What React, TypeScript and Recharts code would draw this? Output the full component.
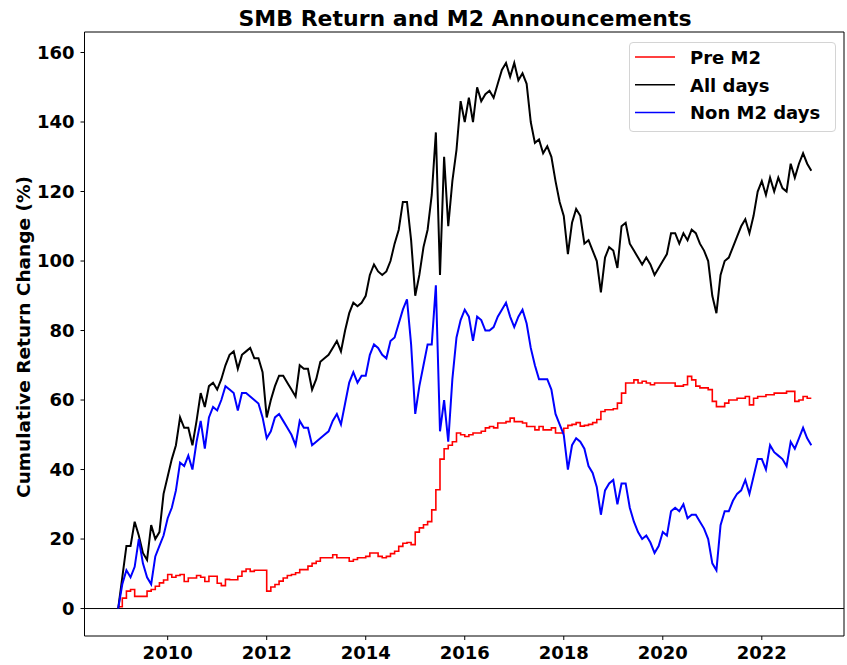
import { LineChart, Line, XAxis, YAxis, ReferenceLine, ReferenceArea, Legend, Label } from "recharts";

const FONT = '"DejaVu Sans", sans-serif';

// monthly observations from Jan 2009 through Jan 2023
const START_YEAR = 2009;
const X_TICKS = [2010, 2012, 2014, 2016, 2018, 2020, 2022];
const Y_TICKS = [0, 20, 40, 60, 80, 100, 120, 140, 160];
const SERIES_NAMES = ["Pre M2", "All days", "Non M2 days"];
const SERIES_COLORS = ["#ff0000", "#000000", "#0000ff"];

const PRE_M2 = [
  0.5, 3, 5, 5.5, 3.5, 3.5, 3.5, 5, 5.5, 6.4, 7.4, 8.2,
  9.8, 9, 9.5, 9.8, 7.8, 8.8, 8.8, 9.5, 9, 7.8, 9.3, 9.3,
  7.3, 6.6, 8.4, 8.3, 8.3, 9.3, 10.7, 11.4, 10.7, 11, 11, 11,
  5, 6.2, 6.9, 7.9, 8.8, 9.5, 9.8, 10.3, 11.2, 11.2, 12.2, 13,
  13.6, 14.6, 14.6, 14.6, 15.5, 14.6, 14.6, 14.6, 13.6, 14.1, 14.6, 14.6,
  15, 16, 16, 15, 14.6, 15, 15.8, 16.5, 17.9, 18.8, 19, 18.4,
  22, 23.2, 24.1, 25, 28.4, 34.2, 43, 46, 47, 48, 50.5, 50,
  49.5, 50, 50.5, 50.5, 51, 52, 52.4, 52, 53.4, 53.4, 53.8, 54.8,
  53.8, 53.8, 53.4, 52.4, 52.4, 51.4, 52.4, 51.4, 51.4, 52, 50.5, 50.5,
  51.9, 52.7, 53, 53.5, 52.5, 52.7, 53, 53.5, 54.4, 56.7, 57.2, 57.2,
  57.5, 59.1, 62, 64.9, 64.9, 65.8, 64.9, 65.4, 64.9, 64.4, 64.9, 64.9,
  64.9, 64.9, 64.9, 64, 64, 64.4, 66.8, 65.8, 64, 63.5, 63.5, 63,
  59.6, 58.1, 58.1, 59.1, 60, 60, 60.5, 60.5, 61, 58.6, 60.5, 61,
  61, 61.5, 61.5, 62, 62, 62, 62.5, 62.5, 59.6, 60, 61, 60.5,
  60.5,
];

const ALL_DAYS = [
  0, 9, 18, 18, 25, 21, 16, 14, 24, 20, 22, 33,
  38, 43, 47, 55, 52, 52, 47, 54, 62, 58, 64, 65,
  63, 66, 70, 73, 74, 69, 73, 74, 75, 72, 72, 68,
  55, 60, 64, 67, 67, 65, 63, 61, 70, 69, 69, 63,
  66, 71, 72, 73, 75, 77, 74, 80, 85, 88, 87, 88,
  90, 96, 99, 97, 96, 97, 100, 105, 109, 117, 117, 106,
  90, 96, 104, 109, 119, 137, 96, 130, 110, 123, 132, 146,
  140, 147, 140, 150, 146, 148, 149, 147, 151, 155, 157, 153,
  157, 152, 154, 151, 140, 134, 135, 131, 133, 130, 123, 117,
  113, 102, 111, 115, 113, 105, 106, 103, 100, 91, 101, 104,
  103, 98, 110, 111, 105, 103, 101, 99, 101, 99, 96, 98,
  100, 102, 108, 108, 105, 108, 106, 109, 108, 105, 103, 100,
  90, 85, 96, 100, 101, 104, 107, 110, 112, 108, 113, 120,
  123, 119, 124, 120, 124, 121, 120, 128, 124, 128, 131, 128,
  126,
];

const NON_M2 = [
  0, 7, 11, 9, 12, 20, 13, 9, 7, 15, 18, 21,
  26, 29, 34, 42, 41, 44, 40, 48, 54, 46, 55, 58,
  57, 60, 64, 63, 62, 57, 62, 62, 61, 60, 59, 55,
  49, 51, 55, 56, 54, 52, 50, 47, 54, 52, 52, 47,
  48, 49, 50, 51, 54, 56, 53, 59, 65, 68, 65, 67,
  67, 73, 76, 75, 73, 72, 77, 78, 82, 86, 89, 76,
  56, 64, 70, 76, 76, 93, 51, 60, 48, 66, 78, 83,
  86, 84, 77, 84, 83, 80, 80, 81, 84, 86, 88, 84,
  81, 84, 86, 82, 75, 70, 66, 66, 66, 63, 56, 53,
  50, 40, 47, 49, 48, 46, 41, 39, 35, 27, 34, 36,
  37, 30, 36, 36, 29, 25, 22, 20, 21, 19, 16, 18,
  22, 21, 28, 29, 28, 30, 26, 27, 27, 25, 23, 20,
  13, 11, 24, 28, 28, 31, 33, 34, 37, 33, 38, 43,
  43, 40, 47, 45, 44, 43, 41, 48, 46, 49, 52, 49,
  47,
];

const rows = ALL_DAYS.map((v, i) => ({
  t: START_YEAR + i / 12,
  pre: PRE_M2[i],
  all: v,
  non: NON_M2[i],
}));

const X_DOMAIN = [2008.32, 2023.66];
const Y_DOMAIN = [-7.9, 165.9];

const tickStyle = { fill: "#000", fontSize: 18, fontWeight: "bold", fontFamily: FONT };

function renderLegend() {
  return (
    <div
      style={{
        width: 207,
        height: 90,
        boxSizing: "border-box",
        border: "1px solid #d4d4d4",
        borderRadius: 4,
        background: "rgba(255,255,255,0.8)",
      }}
    >
      <svg width={205} height={88} style={{ display: "block" }}>
        {SERIES_NAMES.map((name, i) => {
          const cy = 14 + i * 27.7;
          return (
            <g key={name}>
              <line x1={5} x2={45} y1={cy} y2={cy} stroke={SERIES_COLORS[i]} strokeWidth={1.5} />
              <text x={60} y={cy + 7} fontSize={18} fontWeight="bold" fontFamily={FONT} fill="#000">
                {name}
              </text>
            </g>
          );
        })}
      </svg>
    </div>
  );
}

function renderYLabel() {
  return (
    <text
      x={30}
      y={337}
      transform="rotate(-90 30 337)"
      textAnchor="middle"
      fontSize={18.5}
      fontWeight="bold"
      fontFamily={FONT}
      fill="#000"
    >
      Cumulative Return Change (%)
    </text>
  );
}

export default function App() {
  return (
    <div style={{ position: "absolute", left: 0, top: 0, width: 847, height: 665, background: "#fff" }}>
      <div
        style={{
          position: "absolute",
          left: 165,
          top: 5.5,
          width: 600,
          textAlign: "center",
          whiteSpace: "nowrap",
          fontFamily: FONT,
          fontWeight: "bold",
          fontSize: 22,
          lineHeight: "normal",
          color: "#000",
        }}
      >
        SMB Return and M2 Announcements
      </div>
      <LineChart width={847} height={665} data={rows} margin={{ top: 32, right: 3, bottom: 0, left: 24.5 }}>
        <XAxis
          dataKey="t"
          type="number"
          domain={X_DOMAIN}
          ticks={X_TICKS}
          interval={0}
          allowDataOverflow
          axisLine={false}
          tickLine={{ stroke: "#000", strokeWidth: 1 }}
          tickSize={4}
          tickMargin={6}
          height={29}
          tick={tickStyle}
        />
        <YAxis
          type="number"
          domain={Y_DOMAIN}
          ticks={Y_TICKS}
          interval={0}
          allowDataOverflow
          axisLine={false}
          tickLine={{ stroke: "#000", strokeWidth: 1 }}
          tickSize={4}
          tickMargin={6}
          width={60}
          tick={tickStyle}
        >
          <Label content={renderYLabel} />
        </YAxis>
        <ReferenceLine y={0} stroke="#000" strokeWidth={1} />
        <Line
          type="stepAfter"
          dataKey="pre"
          name={SERIES_NAMES[0]}
          stroke={SERIES_COLORS[0]}
          strokeWidth={1.6}
          dot={false}
          activeDot={false}
          isAnimationActive={false}
        />
        <Line
          type="linear"
          dataKey="all"
          name={SERIES_NAMES[1]}
          stroke={SERIES_COLORS[1]}
          strokeWidth={2}
          strokeLinejoin="miter"
          dot={false}
          activeDot={false}
          isAnimationActive={false}
        />
        <Line
          type="linear"
          dataKey="non"
          name={SERIES_NAMES[2]}
          stroke={SERIES_COLORS[2]}
          strokeWidth={2}
          strokeLinejoin="miter"
          dot={false}
          activeDot={false}
          isAnimationActive={false}
        />
        <ReferenceArea
          x1={X_DOMAIN[0]}
          x2={X_DOMAIN[1]}
          y1={Y_DOMAIN[0]}
          y2={Y_DOMAIN[1]}
          fill="none"
          stroke="#000"
          strokeWidth={1}
          ifOverflow="visible"
        />
        <Legend
          layout="vertical"
          align="center"
          verticalAlign="middle"
          wrapperStyle={{ position: "absolute", left: 629, top: 42, width: 207, height: 90 }}
          content={renderLegend}
        />
      </LineChart>
    </div>
  );
}
